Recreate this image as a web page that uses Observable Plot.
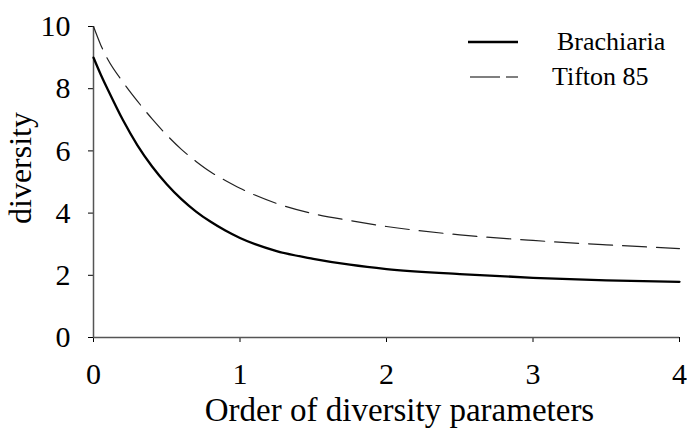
<!DOCTYPE html>
<html><head><meta charset="utf-8">
<script src="https://cdn.jsdelivr.net/npm/d3@7"></script>
<script src="https://cdn.jsdelivr.net/npm/@observablehq/plot@0.6"></script>
<style>
body{margin:0;background:#fff}
#wrap{position:relative;width:687px;height:429px;overflow:hidden}
#legend{position:absolute;left:0;top:0;pointer-events:none}
#wrap svg text{font-family:"Liberation Serif","Times New Roman",Times,Tinos,"Noto Serif","DejaVu Serif",serif !important}
</style></head><body><div id="wrap"></div>
<script>
// order of diversity parameter q
const q = [0, 0.05, 0.1, 0.2, 0.3, 0.4, 0.5, 0.6, 0.7, 0.8, 0.9, 1.0, 1.25, 1.5, 1.75, 2.0, 2.5, 3.0, 3.5, 4.0];
const brachiaria = [9.0, 8.45, 7.95, 7.0, 6.18, 5.5, 4.93, 4.45, 4.05, 3.72, 3.44, 3.2, 2.78, 2.53, 2.34, 2.2, 2.04, 1.92, 1.84, 1.79];
const tifton = [10.0, 9.4, 8.92, 8.22, 7.6, 7.03, 6.51, 6.05, 5.66, 5.32, 5.05, 4.8, 4.31, 3.98, 3.76, 3.57, 3.3, 3.12, 2.98, 2.86];
const seriesNames = ["Brachiaria", "Tifton 85"];
const xTicks = [0, 1, 2, 3, 4];
const yTicks = [0, 2, 4, 6, 8, 10];
const xLabel = "Order of diversity parameters";
const yLabel = "diversity";

const bData = q.map((v, i) => ({q: v, d: brachiaria[i]}));
const tData = q.map((v, i) => ({q: v, d: tifton[i]}));
const serif = '"Liberation Serif", "Times New Roman", serif';

const chart = Plot.plot({
  width: 687, height: 429,
  marginLeft: 93, marginRight: 8, marginTop: 26, marginBottom: 92,
  style: {fontFamily: serif, fontSize: "30px", background: "#fff", color: "#000"},
  x: {domain: [0, 4]},
  y: {domain: [0, 10]},
  marks: [
    Plot.axisX({ticks: xTicks, tickFormat: d => String(d), tickSize: 5, tickPadding: 20, label: null}),
    Plot.axisY({ticks: yTicks, tickFormat: d => String(d), tickSize: 5, tickPadding: 18, label: null}),
    Plot.ruleY([0], {stroke: "#555", strokeWidth: 1.5}),
    Plot.ruleX([0], {stroke: "#555", strokeWidth: 1.5}),
    Plot.line(tData, {x: "q", y: "d", stroke: "#222", strokeWidth: 1.2, strokeDasharray: "24,10", curve: "monotone-x"}),
    Plot.line(bData, {x: "q", y: "d", stroke: "#000", strokeWidth: 2.3, curve: "monotone-x"}),
    Plot.text([xLabel], {frameAnchor: "bottom", text: d => d, fontSize: 33, dx: 13, dy: 73, textAnchor: "middle", lineAnchor: "middle"}),
    Plot.text([yLabel], {frameAnchor: "left", text: d => d, fontSize: 32, rotate: -90, dx: -73, dy: -14, textAnchor: "middle", lineAnchor: "middle"})
  ]
});
const wrap = document.getElementById("wrap");
wrap.appendChild(chart);

// legend
const ns = "http://www.w3.org/2000/svg";
const leg = document.createElementNS(ns, "svg");
leg.setAttribute("id", "legend");
leg.setAttribute("width", 687);
leg.setAttribute("height", 429);
const items = [
  {name: seriesNames[0], y: 42, x1: 468, x2: 518, tx: 557, dash: null, w: 2.3},
  {name: seriesNames[1], y: 77, x1: 470, x2: 518, tx: 552, dash: "30,6", w: 1.2}
];
for (const it of items) {
  const l = document.createElementNS(ns, "line");
  l.setAttribute("x1", it.x1); l.setAttribute("x2", it.x2);
  l.setAttribute("y1", it.y); l.setAttribute("y2", it.y);
  l.setAttribute("stroke", "#000"); l.setAttribute("stroke-width", it.w);
  if (it.dash) l.setAttribute("stroke-dasharray", it.dash);
  leg.appendChild(l);
  const t = document.createElementNS(ns, "text");
  t.setAttribute("x", it.tx); t.setAttribute("y", it.y + 8);
  t.setAttribute("font-size", 26);
  t.textContent = it.name;
  leg.appendChild(t);
}
wrap.appendChild(leg);
</script></body></html>
